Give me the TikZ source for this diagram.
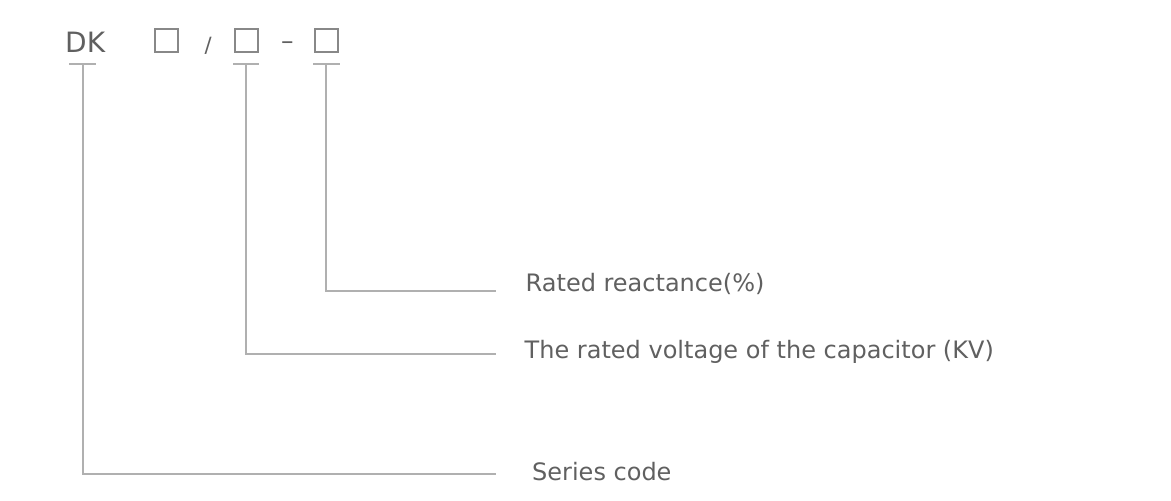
\documentclass[tikz,border=0pt]{standalone}
\usepackage{fontspec}
\setmainfont{DejaVu Sans}
\definecolor{txt}{HTML}{606060}
\definecolor{ln}{HTML}{B0B0B0}
\definecolor{sq}{HTML}{888888}
\begin{document}
\begin{tikzpicture}[x=1pt,y=-1pt,
  lbl/.style={anchor=base west,inner sep=0pt,text=txt,font=\fontsize{24}{27}\selectfont},
  conn/.style={draw=ln,line width=2pt},
  tbar/.style={draw=ln,line width=2pt},
  boxsq/.style={draw=sq,line width=2pt,minimum width=23pt,minimum height=23pt,inner sep=0pt,anchor=center}]
\useasboundingbox (0,0) rectangle (1171,501);
% code line
\node[lbl,font=\fontsize{28}{30}\selectfont] (dk) at (65,52) {DK};
\node[boxsq] (b1) at (166,40.5) {};
\node[lbl,font=\fontsize{21}{24}\selectfont] (sl) at (204.5,52) {/};
\node[boxsq] (b2) at (246,40.5) {};
\node[lbl,font=\fontsize{25}{26}\selectfont] (ds) at (281,49.5) {–};
\node[boxsq] (b3) at (326.5,40.5) {};
% tick bars
\coordinate (t1) at (83,64);
\coordinate (t2) at (246,64);
\coordinate (t3) at (326,64);
\draw[tbar] (69,64) -- (96,64);
\draw[tbar] (233,64) -- (259,64);
\draw[tbar] (313,64) -- (340,64);
% labels
\node[lbl] (l3) at (525.5,291) {Rated reactance(\%)};
\node[lbl] (l2) at (524.5,358) {The rated voltage of the capacitor (KV)};
\node[lbl] (l1) at (532,480) {Series code};
% end points
\coordinate (e3) at (496,291);
\coordinate (e2) at (496,354);
\coordinate (e1) at (496,474);
\draw[conn] (t3) |- (e3);
\draw[conn] (t2) |- (e2);
\draw[conn] (t1) |- (e1);
\end{tikzpicture}
\end{document}
